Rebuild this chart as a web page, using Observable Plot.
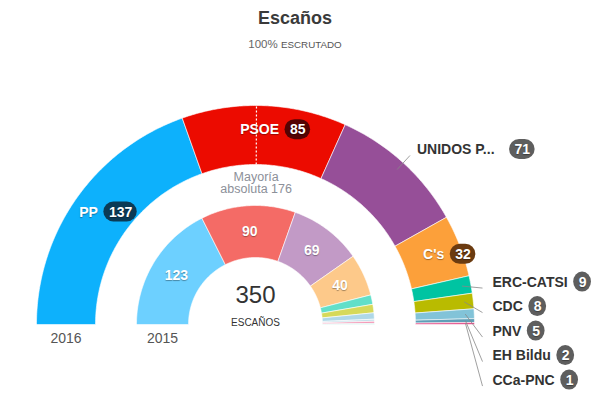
<!DOCTYPE html>
<html>
<head>
<meta charset="utf-8">
<script src="https://cdn.jsdelivr.net/npm/d3@7"></script>
<script src="https://cdn.jsdelivr.net/npm/@observablehq/plot@0.6"></script>
<style>
  body { margin: 0; background: #fff; font-family: Arial, "Liberation Sans", sans-serif; }
  #wrap { position: relative; width: 598px; height: 398px; overflow: hidden; }
  #title { position: absolute; left: 0; width: 590px; top: 7px; text-align: center; font: bold 18px/22px Arial, "Liberation Sans", sans-serif; color: #3a3a3a; }
  #sub { position: absolute; left: 0; width: 590px; top: 37px; text-align: center; font: 11.5px/14px Arial, "Liberation Sans", sans-serif; color: #666; }
  #sub span { font-size: 9.8px; color: #555; }
  #chart { position: absolute; left: 0; top: 60px; }
  g[fill="white"] text { text-shadow: 0 1px 1px rgba(0,0,0,0.35); }
</style>
</head>
<body>
<div id="wrap">
  <div id="title">Escaños</div>
  <div id="sub">100% <span>ESCRUTADO</span></div>
  <div id="chart"></div>
</div>
<script>
// ---- data ----
const parties2016 = ["PP", "PSOE", "UNIDOS P...", "C's", "ERC-CATSI", "CDC", "PNV", "EH Bildu", "CCa-PNC"];
const seats2016 = [137, 85, 71, 32, 9, 8, 5, 2, 1];
const colors2016 = ["#0db1fc", "#ec0b00", "#964f98", "#fca03a", "#00c4a2", "#b9bb00", "#82c3d8", "#5f9fb8", "#e54c88"];
const pillColors2016 = ["#0b3a55", "#550303", "#5e5e5e", "#6b3b10", "#5e5e5e", "#5e5e5e", "#5e5e5e", "#5e5e5e", "#5e5e5e"];
const labelInside2016 = [true, true, false, true, false, false, false, false, false];

const parties2015 = ["PP", "PSOE", "Podemos", "C's", "ERC", "DL", "PNV", "IU-UP", "EH Bildu", "CC"];
const seats2015 = [123, 90, 69, 40, 9, 8, 6, 2, 2, 1];
const colors2015 = ["#6dd0ff", "#f46b66", "#c29ac6", "#fdc98a", "#62dfc9", "#d6d95a", "#afd8e8", "#c4e0ea", "#f49ab8", "#a8ebe3"];

const years = ["2016", "2015"];
const majority = 176;
const totalLabel = "ESCAÑOS";
const majorityLines = ["Mayoría", "absoluta " + majority];

// ---- geometry (radii in pixels) ----
const R16 = [160, 219], R15 = [67, 119];
const total = d3.sum(seats2016);
const ang = c => Math.PI - Math.PI * c / total;

function ring(names, seats, colors, r0, r1, tag) {
  const rows = [];
  let cum = 0;
  names.forEach((name, i) => {
    const a0 = ang(cum), a1 = ang(cum + seats[i]);
    const n = Math.max(2, Math.ceil(Math.abs(a1 - a0) / 0.01));
    const key = tag + i;
    const pts = [];
    for (let k = 0; k <= n; k++) { const a = a0 + (a1 - a0) * k / n; pts.push([r1 * Math.cos(a), r1 * Math.sin(a)]); }
    for (let k = n; k >= 0; k--) { const a = a0 + (a1 - a0) * k / n; pts.push([r0 * Math.cos(a), r0 * Math.sin(a)]); }
    pts.push(pts[0]);
    pts.forEach(p => rows.push({key, x: p[0], y: p[1], color: colors[i]}));
    cum += seats[i];
  });
  return rows;
}
const polys = ring(parties2016, seats2016, colors2016, R16[0], R16[1], "a").concat(
              ring(parties2015, seats2015, colors2015, R15[0], R15[1], "b"));

// ---- labels ----
const ctx = document.createElement("canvas").getContext("2d");
ctx.font = "bold 14px Arial, 'Liberation Sans', sans-serif";
const tw = s => ctx.measureText(s).width;

const names = [], pills = [], links = [];
let cum = 0, prevY = Infinity;
parties2016.forEach((name, i) => {
  const a = ang(cum + seats2016[i] / 2);
  cum += seats2016[i];
  const num = String(seats2016[i]);
  const wt = tw(name), wp = tw(num) + 10;
  let x0, y, dark = true;
  if (labelInside2016[i]) {
    const cx = 195 * Math.cos(a) + 12;
    y = 195 * Math.sin(a);
    x0 = cx - (wt + 6 + wp) / 2;
    dark = false;
  } else if (seats2016[i] >= 20) {
    const sx = 210 * Math.cos(a), sy = 210 * Math.sin(a);
    const ex = 229 * Math.cos(a), ey = 229 * Math.sin(a);
    links.push({x1: sx, y1: sy, x2: ex, y2: ey});
    x0 = ex + 7; y = ey + 6;
  } else {
    const ax = 210 * Math.cos(a), ay = 210 * Math.sin(a);
    y = Math.min(ay + 4, prevY - 24.5);
    prevY = y;
    x0 = 237;
    links.push({x1: ax, y1: ay, x2: x0 - 10, y2: y - 6});
  }
  const gap = name.endsWith("...") ? 15 : 6;
  names.push({x: x0, y, text: name, dark});
  pills.push({x1: x0 + wt + gap, x2: x0 + wt + gap + wp, y1: y - 10, y2: y + 10, xc: x0 + wt + gap + wp / 2, y, text: num, color: pillColors2016[i]});
});

const inner = [];
cum = 0;
seats2015.forEach((s, i) => {
  const a = ang(cum + s / 2);
  cum += s;
  if (s >= 20) inner.push({x: 93 * Math.cos(a), y: 93 * Math.sin(a), text: String(s)});
});

const majA = ang(majority - 0.5);
const majLine = [{x1: R16[0] * Math.cos(majA), y1: R16[0] * Math.sin(majA), x2: R16[1] * Math.cos(majA), y2: R16[1] * Math.sin(majA)}];
const majText = majorityLines.map((t, i) => ({x: 145 * Math.cos(majA), y: 148 - i * 12.5, text: t}));

const yearLabels = [
  {x: -(R16[0] + R16[1]) / 2, y: -14, text: years[0]},
  {x: -(R15[0] + R15[1]) / 2, y: -14, text: years[1]}
];

const font = "Arial, 'Liberation Sans', sans-serif";
const chart = Plot.plot({
  width: 598, height: 338, margin: 0,
  x: {domain: [-255, 343], range: [0, 598], axis: null},
  y: {domain: [-74, 264], range: [338, 0], axis: null},
  color: {type: "identity"},
  style: {fontFamily: font, background: "white"},
  marks: [
    Plot.line(polys, {x: "x", y: "y", z: "key", fill: "color", stroke: "white", strokeWidth: 0.6, curve: "linear"}),
    Plot.link(majLine, {x1: "x1", y1: "y1", x2: "x2", y2: "y2", stroke: "white", strokeWidth: 1.2, strokeDasharray: "2,2"}),
    Plot.link(links, {x1: "x1", y1: "y1", x2: "x2", y2: "y2", stroke: "#888", strokeWidth: 0.8}),
    Plot.rect(pills, {x1: "x1", x2: "x2", y1: "y1", y2: "y2", fill: "color", rx: 10}),
    Plot.text(pills, {x: "xc", y: "y", text: "text", fill: "white", fontSize: 14, fontWeight: "bold"}),
    Plot.text(names.filter(d => !d.dark), {x: "x", y: "y", text: "text", fill: "white", fontSize: 14, fontWeight: "bold", textAnchor: "start"}),
    Plot.text(names.filter(d => d.dark), {x: "x", y: "y", text: "text", fill: "#333", fontSize: 14, fontWeight: "bold", textAnchor: "start"}),
    Plot.text(inner, {x: "x", y: "y", text: "text", fill: "white", fontSize: 14, fontWeight: "bold"}),
    Plot.text(majText, {x: "x", y: "y", text: "text", fill: "#8c9099", fontSize: 12.5}),
    Plot.text([String(total)], {x: 0, y: 29, text: d => d, fill: "#333", fontSize: 24}),
    Plot.text([totalLabel], {x: 0, y: 2, text: d => d, fill: "#333", fontSize: 10}),
    Plot.text(yearLabels, {x: "x", y: "y", text: "text", fill: "#555", fontSize: 14})
  ]
});
document.getElementById("chart").appendChild(chart);
</script>
</body>
</html>
